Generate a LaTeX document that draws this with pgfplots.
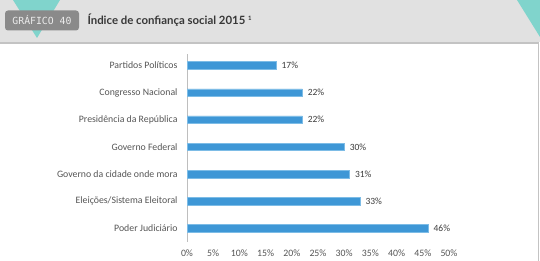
\documentclass[border=0pt]{standalone}
\usepackage{pgfplots}
\pgfplotsset{compat=1.18}
\usepackage{fontspec}
\setmainfont{Carlito}
\newfontfamily\titlefont{Lato}
\newfontfamily\badgefont{DejaVu Sans Mono}
\definecolor{barblue}{RGB}{62,151,214}
\definecolor{baredge}{RGB}{125,188,230}
\definecolor{hdr}{RGB}{225,225,225}
\definecolor{teal}{RGB}{128,212,204}
\definecolor{badge}{RGB}{138,138,138}
\definecolor{txt}{RGB}{85,85,85}
\begin{document}
\begin{tikzpicture}[x=1pt,y=1pt]
\useasboundingbox (0,0) rectangle (540,261);
\fill[white] (0,0) rectangle (540,261);
\fill[hdr] (0,219) rectangle (540,261);
\fill[teal] (13,261) -- (60,261) -- (37,223) -- cycle;
\fill[teal] (517,261) -- (540,261) -- (540,224) -- cycle;
\draw[line width=1.2pt, draw={rgb,255:red,195;green,195;blue,195}] (0,218) -- (538.5,218) -- (538.5,0);
\fill[badge, rounded corners=3pt] (5,230.5) rectangle (79,250.5);
\node[text={rgb,255:red,235;green,235;blue,235}, font=\badgefont\fontsize{9.8}{10}\selectfont] at (42,240.5) {GRÁFICO 40};
\node[anchor=west, text={rgb,255:red,55;green,55;blue,55}, font=\titlefont\bfseries\fontsize{11.4}{12}\selectfont] at (84,241) {Índice de confiança social 2015 \raisebox{0.6ex}{\fontsize{6}{7}\selectfont 1}};
\coordinate (AX) at (187,19);
\begin{axis}[
  at={(AX)}, anchor=south west,
  scale only axis, width=262pt, height=188pt,
  xbar, bar width=7.5pt,
  xmin=0, xmax=50, ymin=-0.42, ymax=6.5,
  y dir=reverse,
  axis lines*=left,
  x axis line style={draw=none},
  y axis line style={draw={rgb,255:red,190;green,190;blue,190}, line width=1pt},
  xtick={0,5,...,50},
  xticklabel={\pgfmathprintnumber{\tick}\%},
  /pgf/number format/assume math mode=true,
  ytick={0,...,6},
  yticklabels={Partidos Políticos, Congresso Nacional, Presidência da República, Governo Federal, Governo da cidade onde mora\ , Eleições/Sistema Eleitoral, Poder Judiciário},
  major tick length=0pt,
  tick label style={text=txt, font=\fontsize{9.8}{11}\selectfont},
  xticklabel style={yshift=-4.5pt},
  yticklabel style={xshift=-6pt},
  nodes near coords={\pgfmathprintnumber{\pgfplotspointmeta}\%},
  nodes near coords style={text={rgb,255:red,60;green,60;blue,60}, font=\fontsize{9.5}{11}\selectfont, xshift=2pt},
  point meta=x,
  clip=false,
]
\addplot[fill=barblue, draw=baredge, line width=0.5pt] coordinates {
 (17,0) (22,1) (22,2) (30,3) (31,4) (33,5) (46,6)
};
\end{axis}
\end{tikzpicture}
\end{document}
